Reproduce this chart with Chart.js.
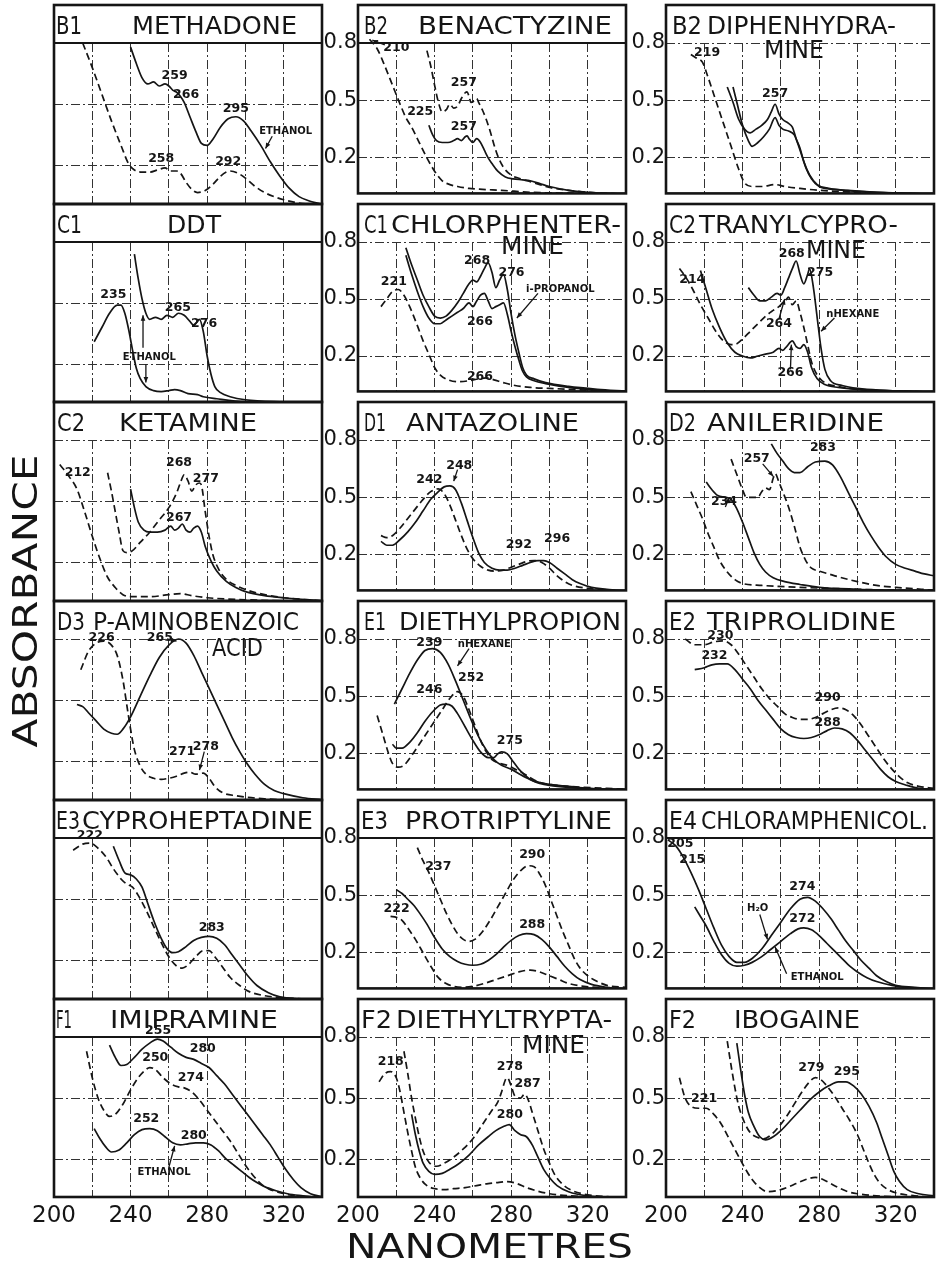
<!DOCTYPE html>
<html lang="en">
<head>
<meta charset="UTF-8" />
<title>UV absorbance spectra</title>
<script src="https://cdn.jsdelivr.net/npm/chart.js"></script>
<style>
  html, body { margin: 0; padding: 0; background: #fff; }
  #page { position: relative; width: 936px; height: 1264px; overflow: hidden; background: #fff; }
  #page canvas { position: absolute; }
  #page svg { position: absolute; left: 0; top: 0; pointer-events: none; }
</style>
</head>
<body>
<div id="page"></div>
<script>
// ---- spectra, [nanometres, absorbance] ----
// row 1
const methadoneDash = [[215,0.80],[220,0.68],[225,0.55],[230,0.42],[235,0.30],[239,0.21],[242,0.18],[246,0.17],[250,0.17],[254,0.18],[258,0.19],[261,0.175],[264,0.175],[266,0.165],[269,0.12],[272,0.085],[275,0.07],[279,0.08],[283,0.11],[287,0.15],[290,0.17],[292,0.175],[296,0.165],[300,0.14],[305,0.10],[310,0.07],[315,0.05],[320,0.035],[327,0.02],[338,0.01]];
const methadoneEthanol = [[240,0.78],[243,0.70],[246,0.63],[249,0.60],[252,0.61],[255,0.59],[258,0.60],[260,0.59],[262,0.57],[264,0.56],[266,0.54],[268,0.51],[271,0.44],[274,0.37],[277,0.31],[280,0.30],[283,0.33],[287,0.39],[291,0.43],[295,0.44],[299,0.42],[303,0.37],[308,0.30],[313,0.22],[318,0.15],[323,0.09],[328,0.05],[333,0.03],[339,0.015]];
const benactyzineDash = [[206,0.82],[210,0.77],[214,0.68],[218,0.58],[222,0.48],[225,0.41],[228,0.36],[232,0.28],[236,0.20],[240,0.13],[244,0.08],[248,0.06],[252,0.05],[258,0.04],[265,0.035],[275,0.03],[290,0.02],[310,0.015],[340,0.01]];
const benactyzineUpper = [[236,0.76],[238,0.68],[240,0.58],[242,0.49],[244,0.44],[246,0.45],[248,0.48],[250,0.46],[252,0.47],[254,0.51],[256,0.54],[257,0.545],[258,0.52],[259,0.49],[261,0.50],[262,0.51],[263,0.49],[265,0.45],[267,0.40],[269,0.34],[271,0.27],[273,0.21],[276,0.15],[280,0.11],[285,0.09],[290,0.075],[295,0.06],[300,0.045],[310,0.03],[320,0.02],[340,0.01]];
const benactyzineLower = [[237,0.37],[239,0.32],[241,0.29],[244,0.28],[247,0.28],[250,0.29],[252,0.30],[254,0.29],[256,0.31],[257,0.315],[258,0.30],[260,0.28],[262,0.30],[264,0.28],[266,0.24],[268,0.20],[270,0.17],[273,0.13],[277,0.10],[281,0.09],[286,0.085],[290,0.08],[295,0.065],[300,0.05],[310,0.03],[320,0.02],[340,0.01]];
const diphenDash = [[213,0.74],[216,0.72],[219,0.70],[222,0.62],[226,0.50],[230,0.38],[234,0.26],[238,0.14],[241,0.07],[245,0.05],[250,0.05],[257,0.06],[262,0.05],[270,0.04],[280,0.03],[300,0.02],[340,0.01]];
const diphenUpper = [[232,0.57],[235,0.49],[238,0.40],[241,0.35],[244,0.33],[247,0.35],[250,0.37],[253,0.40],[255,0.44],[257,0.48],[259,0.43],[261,0.40],[264,0.38],[266,0.36],[268,0.30],[270,0.25],[272,0.18],[275,0.11],[279,0.06],[285,0.04],[295,0.03],[310,0.02],[340,0.01]];
const diphenLower = [[235,0.57],[237,0.49],[240,0.37],[243,0.29],[245,0.26],[248,0.28],[251,0.31],[254,0.35],[257,0.41],[259,0.37],[261,0.35],[264,0.34],[267,0.32],[269,0.27],[271,0.21],[273,0.15],[276,0.09],[280,0.05],[288,0.035],[300,0.025],[340,0.01]];
// row 2
const ddtEthanol = [[221,0.31],[225,0.38],[229,0.45],[233,0.49],[235,0.49],[237,0.45],[239,0.37],[241,0.27],[243,0.18],[245,0.13],[248,0.09],[252,0.07],[256,0.065],[260,0.07],[263,0.075],[266,0.07],[270,0.055],[275,0.05],[278,0.04],[285,0.03],[300,0.015],[340,0.01]];
const ddtUpper = [[242,0.74],[244,0.62],[246,0.52],[248,0.45],[250,0.42],[253,0.43],[256,0.42],[259,0.44],[262,0.43],[265,0.45],[268,0.44],[271,0.41],[273,0.39],[276,0.42],[278,0.36],[280,0.24],[282,0.15],[284,0.09],[287,0.06],[292,0.04],[300,0.025],[320,0.015],[340,0.01]];
const chlorphenDash = [[212,0.46],[215,0.50],[218,0.54],[221,0.55],[224,0.52],[227,0.46],[231,0.36],[234,0.28],[237,0.21],[240,0.14],[243,0.10],[247,0.075],[252,0.065],[258,0.07],[263,0.08],[267,0.085],[271,0.075],[276,0.06],[282,0.045],[290,0.035],[300,0.03],[320,0.02],[340,0.01]];
const chlorphenUpper = [[225,0.77],[228,0.68],[231,0.60],[234,0.52],[237,0.46],[240,0.41],[243,0.40],[246,0.41],[249,0.44],[252,0.48],[255,0.53],[258,0.58],[260,0.60],[262,0.59],[264,0.62],[266,0.66],[268,0.69],[270,0.64],[272,0.56],[274,0.60],[276,0.63],[278,0.55],[280,0.42],[282,0.31],[284,0.22],[286,0.14],[288,0.10],[292,0.08],[298,0.06],[310,0.04],[325,0.025],[340,0.015]];
const chlorphenLower = [[225,0.73],[228,0.63],[231,0.54],[234,0.46],[237,0.40],[240,0.37],[243,0.37],[246,0.39],[249,0.41],[252,0.43],[255,0.45],[258,0.48],[260,0.46],[262,0.49],[264,0.52],[266,0.53],[268,0.49],[270,0.45],[272,0.46],[274,0.47],[276,0.48],[278,0.42],[280,0.33],[282,0.25],[284,0.18],[286,0.12],[288,0.09],[292,0.07],[298,0.055],[310,0.035],[325,0.02],[340,0.01]];
const tranylDash = [[207,0.66],[210,0.62],[214,0.55],[218,0.47],[222,0.40],[226,0.33],[230,0.28],[234,0.26],[237,0.265],[240,0.29],[244,0.33],[248,0.37],[252,0.41],[256,0.44],[259,0.46],[261,0.48],[263,0.50],[264,0.51],[266,0.47],[268,0.49],[270,0.43],[272,0.35],[274,0.26],[276,0.17],[279,0.10],[283,0.06],[290,0.04],[300,0.025],[340,0.01]];
const tranylSolid = [[218,0.65],[221,0.55],[224,0.45],[228,0.35],[232,0.27],[236,0.22],[240,0.20],[244,0.19],[248,0.20],[252,0.21],[256,0.22],[259,0.24],[261,0.23],[263,0.25],[266,0.28],[268,0.25],[270,0.24],[272,0.26],[274,0.22],[276,0.14],[279,0.08],[283,0.05],[290,0.035],[300,0.025],[340,0.01]];
const tranylHexane = [[243,0.56],[246,0.52],[249,0.49],[252,0.49],[255,0.51],[258,0.53],[260,0.52],[262,0.56],[264,0.61],[266,0.66],[268,0.70],[270,0.63],[272,0.58],[274,0.63],[275,0.66],[277,0.56],[279,0.40],[281,0.24],[283,0.13],[286,0.07],[292,0.045],[300,0.03],[340,0.01]];
// row 3
const ketamineDash = [[203,0.68],[208,0.62],[212,0.56],[216,0.45],[220,0.33],[224,0.22],[228,0.13],[232,0.08],[236,0.045],[240,0.035],[250,0.035],[260,0.045],[266,0.05],[272,0.04],[280,0.03],[300,0.02],[340,0.01]];
const ketamineUpper = [[228,0.64],[230,0.55],[232,0.45],[234,0.35],[236,0.26],[238,0.25],[241,0.26],[245,0.30],[250,0.35],[255,0.41],[260,0.47],[264,0.54],[266,0.59],[268,0.63],[270,0.60],[272,0.55],[274,0.58],[276,0.59],[277,0.58],[279,0.45],[281,0.33],[283,0.24],[286,0.17],[290,0.12],[295,0.09],[300,0.07],[310,0.045],[320,0.03],[340,0.015]];
const ketamineLower = [[240,0.56],[242,0.47],[244,0.40],[247,0.36],[250,0.35],[254,0.35],[258,0.36],[261,0.38],[263,0.36],[265,0.37],[267,0.39],[269,0.36],[271,0.35],[273,0.37],[275,0.38],[277,0.35],[279,0.28],[282,0.21],[285,0.16],[290,0.11],[295,0.08],[300,0.06],[310,0.04],[320,0.03],[340,0.015]];
const antazolineDash = [[212,0.30],[215,0.29],[218,0.30],[222,0.34],[226,0.39],[230,0.44],[234,0.49],[238,0.53],[242,0.545],[245,0.52],[248,0.46],[251,0.38],[254,0.30],[257,0.23],[260,0.18],[264,0.14],[268,0.12],[272,0.115],[276,0.12],[280,0.135],[284,0.15],[288,0.165],[292,0.17],[296,0.16],[300,0.13],[304,0.09],[308,0.06],[312,0.04],[320,0.025],[340,0.01]];
const antazolineSolid = [[212,0.27],[215,0.25],[218,0.25],[222,0.28],[226,0.32],[230,0.37],[234,0.43],[238,0.49],[242,0.53],[245,0.555],[248,0.56],[251,0.54],[254,0.47],[257,0.38],[260,0.29],[263,0.21],[266,0.16],[270,0.13],[274,0.12],[278,0.12],[282,0.13],[286,0.145],[290,0.16],[294,0.17],[297,0.17],[300,0.16],[304,0.13],[308,0.10],[312,0.07],[316,0.05],[322,0.03],[330,0.02],[340,0.01]];
const anilerDash = [[213,0.53],[216,0.46],[219,0.39],[222,0.31],[225,0.24],[228,0.17],[232,0.11],[236,0.07],[240,0.05],[250,0.04],[270,0.03],[300,0.02],[340,0.01]];
const anilerSolid234 = [[221,0.58],[224,0.54],[227,0.51],[231,0.50],[234,0.49],[237,0.44],[240,0.37],[243,0.29],[246,0.21],[249,0.15],[252,0.11],[256,0.08],[262,0.06],[270,0.045],[280,0.03],[300,0.02],[340,0.01]];
const anilerDash257 = [[234,0.70],[237,0.62],[240,0.54],[242,0.50],[245,0.50],[248,0.50],[250,0.53],[252,0.55],[254,0.54],[256,0.60],[257,0.625],[259,0.58],[261,0.53],[264,0.45],[267,0.35],[270,0.24],[273,0.17],[276,0.13],[280,0.115],[285,0.10],[290,0.085],[300,0.06],[310,0.04],[320,0.03],[340,0.015]];
const anilerSolid283 = [[255,0.78],[258,0.73],[261,0.69],[264,0.65],[267,0.63],[270,0.63],[274,0.66],[278,0.685],[283,0.69],[287,0.67],[291,0.61],[295,0.53],[299,0.45],[303,0.37],[307,0.30],[311,0.24],[315,0.19],[320,0.15],[325,0.13],[330,0.115],[335,0.10],[340,0.09]];
// row 4
const pabaDash = [[214,0.65],[218,0.74],[222,0.78],[226,0.79],[230,0.77],[233,0.72],[236,0.60],[238,0.48],[240,0.36],[242,0.26],[245,0.18],[248,0.14],[252,0.12],[256,0.115],[260,0.12],[264,0.13],[268,0.145],[271,0.15],[274,0.14],[278,0.145],[281,0.12],[284,0.08],[288,0.05],[295,0.035],[310,0.02],[340,0.01]];
const pabaSolid = [[212,0.48],[215,0.47],[218,0.44],[222,0.40],[226,0.36],[230,0.34],[233,0.335],[236,0.36],[240,0.42],[245,0.52],[250,0.62],[255,0.71],[260,0.77],[265,0.80],[269,0.78],[273,0.72],[277,0.64],[281,0.56],[285,0.48],[289,0.40],[293,0.32],[297,0.25],[301,0.19],[305,0.14],[310,0.09],[315,0.06],[320,0.045],[330,0.025],[340,0.015]];
const diethylpHexane = [[219,0.46],[223,0.54],[227,0.62],[231,0.69],[235,0.74],[239,0.75],[243,0.73],[247,0.67],[251,0.58],[255,0.48],[259,0.38],[263,0.29],[267,0.22],[271,0.17],[275,0.14],[280,0.12],[285,0.09],[290,0.065],[295,0.05],[300,0.04],[310,0.03],[320,0.02],[340,0.01]];
const diethylpSolid = [[218,0.25],[220,0.23],[223,0.23],[227,0.26],[231,0.31],[235,0.37],[239,0.42],[243,0.455],[246,0.46],[249,0.45],[252,0.41],[256,0.34],[260,0.27],[264,0.21],[268,0.18],[271,0.18],[273,0.20],[275,0.21],[278,0.20],[281,0.16],[284,0.12],[287,0.09],[291,0.06],[295,0.045],[300,0.035],[310,0.025],[340,0.01]];
const diethylpDash = [[210,0.40],[213,0.30],[216,0.20],[218,0.15],[221,0.13],[224,0.14],[228,0.19],[232,0.25],[236,0.31],[240,0.37],[244,0.43],[248,0.49],[252,0.525],[255,0.50],[258,0.43],[261,0.35],[264,0.27],[267,0.21],[270,0.17],[274,0.15],[278,0.14],[282,0.12],[286,0.10],[290,0.075],[295,0.05],[300,0.04],[310,0.03],[340,0.015]];
const triproDash = [[210,0.80],[215,0.77],[220,0.77],[225,0.785],[230,0.79],[234,0.77],[238,0.72],[242,0.66],[246,0.60],[250,0.54],[254,0.49],[258,0.45],[262,0.41],[266,0.39],[270,0.38],[274,0.38],[278,0.39],[282,0.41],[286,0.43],[290,0.44],[294,0.43],[298,0.40],[302,0.35],[306,0.29],[310,0.23],[314,0.17],[318,0.12],[322,0.08],[326,0.05],[332,0.03],[340,0.02]];
const triproSolid = [[215,0.64],[220,0.65],[224,0.665],[228,0.67],[232,0.67],[236,0.64],[240,0.59],[244,0.54],[248,0.48],[252,0.43],[256,0.38],[260,0.33],[264,0.30],[268,0.285],[272,0.28],[276,0.285],[280,0.30],[284,0.32],[288,0.335],[292,0.33],[296,0.31],[300,0.27],[304,0.22],[308,0.17],[312,0.12],[316,0.08],[320,0.055],[326,0.035],[332,0.02],[340,0.015]];
// row 5
const cyproDash = [[210,0.74],[215,0.77],[219,0.775],[223,0.75],[227,0.71],[231,0.65],[235,0.60],[238,0.575],[241,0.56],[244,0.52],[248,0.45],[252,0.37],[256,0.29],[260,0.22],[264,0.175],[267,0.165],[270,0.18],[274,0.22],[278,0.25],[281,0.25],[284,0.22],[288,0.17],[292,0.12],[297,0.08],[302,0.05],[310,0.03],[320,0.02],[340,0.01]];
const cyproSolid = [[231,0.76],[234,0.69],[237,0.63],[240,0.62],[243,0.60],[246,0.56],[249,0.48],[252,0.40],[256,0.31],[259,0.26],[262,0.24],[265,0.245],[269,0.27],[273,0.30],[277,0.315],[281,0.32],[285,0.31],[289,0.28],[293,0.23],[297,0.18],[301,0.13],[306,0.08],[312,0.045],[318,0.025],[328,0.015],[340,0.01]];
const protripUpper = [[231,0.75],[234,0.68],[237,0.62],[240,0.55],[243,0.48],[246,0.41],[249,0.35],[252,0.30],[255,0.27],[258,0.26],[261,0.27],[265,0.31],[269,0.37],[273,0.44],[277,0.51],[281,0.58],[285,0.63],[289,0.655],[292,0.65],[295,0.61],[298,0.55],[301,0.47],[304,0.39],[307,0.31],[310,0.24],[313,0.17],[316,0.12],[320,0.08],[325,0.05],[330,0.03],[340,0.02]];
const protripSolid = [[220,0.53],[223,0.51],[226,0.48],[229,0.45],[232,0.41],[236,0.35],[240,0.28],[244,0.22],[248,0.18],[252,0.155],[256,0.14],[260,0.135],[264,0.14],[268,0.16],[272,0.19],[276,0.23],[280,0.265],[284,0.29],[288,0.30],[292,0.295],[296,0.27],[300,0.23],[304,0.18],[308,0.13],[312,0.09],[316,0.06],[322,0.035],[330,0.02],[340,0.01]];
const protripLower = [[217,0.39],[220,0.385],[223,0.37],[226,0.33],[230,0.27],[234,0.20],[238,0.13],[242,0.07],[246,0.04],[250,0.025],[255,0.02],[260,0.025],[266,0.04],[272,0.06],[278,0.08],[284,0.10],[290,0.11],[295,0.10],[300,0.08],[305,0.06],[310,0.04],[318,0.025],[340,0.01]];
const chloramphWater = [[201,0.79],[205,0.76],[209,0.70],[213,0.62],[217,0.53],[221,0.43],[225,0.33],[229,0.24],[233,0.18],[237,0.15],[241,0.15],[245,0.17],[250,0.22],[255,0.29],[260,0.36],[265,0.43],[270,0.48],[274,0.49],[278,0.47],[282,0.43],[286,0.38],[290,0.32],[294,0.26],[298,0.21],[302,0.16],[306,0.12],[310,0.08],[315,0.05],[320,0.03],[330,0.02],[340,0.01]];
const chloramphEthanol = [[215,0.44],[218,0.39],[221,0.34],[225,0.26],[229,0.19],[233,0.145],[237,0.13],[241,0.135],[245,0.15],[250,0.18],[255,0.22],[260,0.26],[265,0.30],[269,0.325],[272,0.33],[276,0.32],[280,0.29],[284,0.25],[288,0.21],[292,0.17],[296,0.13],[300,0.10],[305,0.07],[310,0.05],[318,0.03],[330,0.015],[340,0.01]];
// row 6
const imipUpper = [[229,0.76],[232,0.70],[235,0.66],[238,0.665],[242,0.70],[246,0.74],[250,0.77],[254,0.79],[257,0.78],[261,0.75],[265,0.72],[269,0.70],[273,0.69],[277,0.67],[281,0.65],[285,0.61],[289,0.57],[293,0.52],[297,0.47],[301,0.42],[305,0.37],[309,0.32],[313,0.27],[317,0.21],[321,0.15],[325,0.10],[329,0.06],[334,0.03],[340,0.015]];
const imipDash = [[217,0.73],[220,0.60],[223,0.50],[226,0.44],[229,0.41],[232,0.42],[236,0.47],[240,0.54],[244,0.60],[248,0.64],[250,0.65],[253,0.64],[257,0.60],[261,0.57],[265,0.555],[268,0.55],[272,0.53],[276,0.49],[280,0.44],[284,0.39],[288,0.34],[292,0.29],[296,0.23],[300,0.17],[304,0.12],[308,0.08],[312,0.055],[318,0.035],[326,0.02],[340,0.01]];
const imipEthanol = [[221,0.35],[224,0.30],[227,0.26],[230,0.235],[234,0.245],[238,0.28],[242,0.32],[246,0.345],[250,0.35],[254,0.34],[258,0.31],[262,0.28],[266,0.27],[270,0.275],[274,0.28],[278,0.28],[282,0.27],[286,0.24],[290,0.20],[294,0.17],[298,0.14],[302,0.11],[306,0.085],[310,0.065],[316,0.045],[322,0.03],[330,0.02],[340,0.01]];
const detDash218 = [[211,0.58],[214,0.62],[217,0.63],[220,0.60],[222,0.53],[224,0.43],[226,0.33],[228,0.24],[230,0.16],[233,0.10],[236,0.07],[240,0.055],[245,0.05],[250,0.055],[256,0.06],[262,0.07],[268,0.08],[273,0.085],[278,0.09],[283,0.08],[288,0.06],[293,0.045],[300,0.03],[310,0.02],[340,0.01]];
const detDashUpper = [[224,0.73],[226,0.62],[228,0.50],[230,0.40],[232,0.31],[234,0.24],[236,0.20],[238,0.175],[241,0.165],[245,0.18],[250,0.21],[255,0.25],[260,0.30],[265,0.37],[270,0.44],[273,0.48],[275,0.53],[277,0.59],[278,0.60],[280,0.56],[282,0.51],[285,0.50],[287,0.52],[289,0.49],[291,0.43],[294,0.34],[297,0.25],[300,0.18],[303,0.12],[307,0.075],[312,0.045],[320,0.025],[340,0.01]];
const detSolid = [[228,0.42],[230,0.32],[232,0.24],[234,0.18],[237,0.14],[240,0.125],[244,0.13],[248,0.15],[253,0.18],[258,0.22],[263,0.27],[268,0.31],[272,0.34],[276,0.36],[279,0.37],[282,0.34],[285,0.32],[288,0.31],[291,0.27],[294,0.21],[297,0.15],[300,0.11],[304,0.07],[310,0.04],[320,0.02],[340,0.01]];
const iboDashLow = [[207,0.60],[210,0.50],[213,0.46],[217,0.45],[221,0.45],[225,0.42],[229,0.37],[233,0.30],[237,0.23],[241,0.16],[245,0.10],[249,0.06],[253,0.04],[258,0.045],[263,0.06],[268,0.08],[273,0.10],[278,0.11],[282,0.10],[286,0.08],[290,0.06],[295,0.04],[300,0.03],[310,0.02],[340,0.01]];
const iboDashUpper = [[232,0.78],[234,0.66],[236,0.55],[238,0.46],[241,0.38],[244,0.33],[247,0.31],[251,0.30],[255,0.32],[259,0.36],[263,0.41],[267,0.47],[271,0.53],[275,0.58],[278,0.60],[281,0.59],[284,0.56],[288,0.51],[292,0.45],[296,0.39],[300,0.32],[303,0.25],[306,0.18],[309,0.12],[312,0.08],[316,0.05],[322,0.03],[330,0.02],[340,0.01]];
const iboSolid = [[237,0.77],[239,0.64],[241,0.52],[243,0.43],[246,0.36],[249,0.31],[252,0.295],[256,0.31],[260,0.34],[265,0.39],[270,0.44],[275,0.49],[280,0.53],[285,0.56],[290,0.58],[294,0.58],[298,0.56],[302,0.52],[306,0.46],[310,0.38],[313,0.30],[316,0.22],[319,0.14],[322,0.09],[326,0.05],[332,0.03],[340,0.02]];

// ---- peak / solvent labels: [text, nm, absorbance] ----
const methadoneLabels = [['259',263,0.64],['266',269,0.547],['295',295,0.48],['258',256,0.237],['292',291,0.22],['ETHANOL',321,0.37]];
const benactyzineLabels = [['210',220,0.775],['257',255.3,0.59],['225',232.5,0.44],['257',255.3,0.36]];
const diphenLabels = [['219',221.5,0.75],['257',257,0.535]];
const ddtLabels = [['235',231,0.54],['265',264.7,0.475],['276',278.4,0.397],['ETHANOL',249.8,0.233]];
const chlorphenLabels = [['221',218.7,0.592],['268',262.2,0.70],['276',280.2,0.637],['i-PROPANOL',305.7,0.55],['266',263.7,0.38],['266',263.7,0.093]];
const tranylLabels = [['214',213.7,0.60],['268',265.7,0.74],['275',280.5,0.64],['264',259,0.37],['nHEXANE',297.6,0.42],['266',265,0.11]];
const ketamineLabels = [['212',212.4,0.64],['268',265.3,0.69],['277',279.3,0.61],['267',265.3,0.42]];
const antazolineLabels = [['242',237.3,0.592],['248',252.9,0.667],['292',284,0.25],['296',304,0.283]];
const anilerLabels = [['234',230.3,0.475],['257',247.4,0.70],['283',282,0.758]];
const pabaLabels = [['226',224.9,0.805],['265',255.3,0.805],['271',266.9,0.25],['278',279.3,0.276]];
const diethylpLabels = [['239',237.3,0.78],['nHEXANE',266,0.77],['246',237.3,0.536],['252',259.1,0.60],['275',279.3,0.27]];
const triproLabels = [['230',228.4,0.815],['232',225.3,0.71],['290',284.4,0.495],['288',284.4,0.36]];
const cyproLabels = [['222',218.7,0.81],['283',282.4,0.363]];
const protripLabels = [['237',242,0.65],['290',291,0.71],['222',220.2,0.43],['288',291,0.345]];
const chloramphLabels = [['205',207.5,0.77],['215',213.7,0.687],['274',271.2,0.546],['H₂O',247.9,0.43],['272',271.2,0.38],['ETHANOL',279,0.07]];
const imipLabels = [['255',254.4,0.83],['280',277.7,0.74],['250',252.9,0.70],['274',271.5,0.60],['252',248.2,0.40],['280',273,0.315],['ETHANOL',257.5,0.133]];
const detLabels = [['218',217.1,0.68],['278',279.3,0.656],['287',288.6,0.57],['280',279.3,0.42]];
const iboLabels = [['221',219.9,0.496],['279',275.9,0.65],['295',294.5,0.63]];

// ---- arrows from a label to its curve: [nm0, A0, nm1, A1] ----
const methadoneArrows = [[314,0.345,310.5,0.285]];
const benactyzineArrows = [[214,0.79,207.5,0.815]];
const ddtArrows = [[246.5,0.28,246.5,0.44],[248,0.20,248,0.11]];
const chlorphenArrows = [[294,0.53,283,0.40]];
const tranylArrows = [[259,0.395,262,0.50],[288,0.40,281,0.33],[265,0.13,265.5,0.26]];
const antazolineArrows = [[252,0.645,250,0.585]];
const anilerArrows = [[231,0.45,233,0.50],[250.5,0.675,256,0.61]];
const pabaArrows = [[259,0.80,264,0.79],[278.5,0.25,276,0.16]];
const diethylpArrows = [[258,0.75,252,0.66]];
const chloramphArrows = [[249,0.40,253,0.27],[263,0.09,257,0.23]];
const imipArrows = [[260,0.16,263,0.265]];

// ---- titles ----
const panelCodes = ['B1','B2','B2','C1','C1','C2','C2','D1','D2','D3','E1','E2','E3','E3','E4','F1','F2','F2'];
const panelNames = ['METHADONE','BENACTYZINE','DIPHENHYDRA-','DDT','CHLORPHENTER-','TRANYLCYPRO-','KETAMINE','ANTAZOLINE','ANILERIDINE','P-AMINOBENZOIC','DIETHYLPROPION','TRIPROLIDINE','CYPROHEPTADINE','PROTRIPTYLINE','CHLORAMPHENICOL.','IMIPRAMINE','DIETHYLTRYPTA-','IBOGAINE'];
const panelNames2 = ['','','MINE','','MINE','MINE','','','','ACID','','','','','','','MINE',''];

const xTicks = [200,220,240,260,280,300,320,340];
const xLabelTicks = [200,240,280,320];
const yTicks = [0.2,0.5,0.8];

// series per panel: [points, dashed]
const panelSeries = [
  [[methadoneDash,true],[methadoneEthanol,false]],
  [[benactyzineDash,true],[benactyzineUpper,true],[benactyzineLower,false]],
  [[diphenDash,true],[diphenUpper,false],[diphenLower,false]],
  [[ddtEthanol,false],[ddtUpper,false]],
  [[chlorphenDash,true],[chlorphenUpper,false],[chlorphenLower,false]],
  [[tranylDash,true],[tranylSolid,false],[tranylHexane,false]],
  [[ketamineDash,true],[ketamineUpper,true],[ketamineLower,false]],
  [[antazolineDash,true],[antazolineSolid,false]],
  [[anilerDash,true],[anilerSolid234,false],[anilerDash257,true],[anilerSolid283,false]],
  [[pabaDash,true],[pabaSolid,false]],
  [[diethylpHexane,false],[diethylpSolid,false],[diethylpDash,true]],
  [[triproDash,true],[triproSolid,false]],
  [[cyproDash,true],[cyproSolid,false]],
  [[protripUpper,true],[protripSolid,false],[protripLower,true]],
  [[chloramphWater,false],[chloramphEthanol,false]],
  [[imipUpper,false],[imipDash,true],[imipEthanol,false]],
  [[detDash218,true],[detDashUpper,true],[detSolid,false]],
  [[iboDashLow,true],[iboDashUpper,true],[iboSolid,false]]
];
const panelLabels = [methadoneLabels,benactyzineLabels,diphenLabels,ddtLabels,chlorphenLabels,tranylLabels,ketamineLabels,antazolineLabels,anilerLabels,pabaLabels,diethylpLabels,triproLabels,cyproLabels,protripLabels,chloramphLabels,imipLabels,detLabels,iboLabels];
const panelArrows = [methadoneArrows,benactyzineArrows,[],ddtArrows,chlorphenArrows,tranylArrows,[],antazolineArrows,anilerArrows,pabaArrows,diethylpArrows,[],[],[],chloramphArrows,imipArrows,[],[]];

// ---- layout (pixels) ----
const COL_LEFT = [54, 358, 666];
const PANEL_W = 268;
const ROW_TOP0 = 5, ROW_H = 198.7;
const TITLE_H = 38;
const Y_MIN = 0.014, Y_MAX = 0.8;
const MARGIN_L = 40, PAD = 3, XLAB_H = 30;
// [codeX0, codeX1, nameX0, nameX1, line2X0, line2X1, line2Base] relative to panel
const titleBox = [
  [2,28,78,243],[6,30,60,254],[6,36,41,230,98,158,53],
  [3,28,113,167],[6,30,33,263,143,206,50],[3,30,33,232,140,200,54],
  [3,31,65,203],[6,28,48,221],[3,30,41,218],
  [3,31,39,245,158,209,55],[6,28,41,263],[3,30,41,230],
  [2,26,28,259],[3,30,47,254],[3,31,35,262],
  [2,18,56,224],[3,34,38,254,164,227,54],[3,30,68,194]
];
const solidTop = [true,true,false,true,false,false,false,false,false,false,false,false,true,true,true,true,false,false];

const FONT = "'DejaVu Sans', 'Liberation Sans', sans-serif";
const INK = '#151515';

const page = document.getElementById('page');

const framePlugin = {
  id: 'frame',
  beforeDatasetsDraw(chart, args, opts) {
    const { ctx, chartArea: ca } = chart;
    if (opts.solidTop) {
      ctx.save();
      ctx.strokeStyle = INK; ctx.lineWidth = 1.8;
      ctx.beginPath(); ctx.moveTo(ca.left, ca.top); ctx.lineTo(ca.right, ca.top); ctx.stroke();
      ctx.restore();
    }
  },
  afterDraw(chart) {
    const { ctx, chartArea: ca } = chart;
    ctx.save();
    ctx.strokeStyle = INK; ctx.lineWidth = 2.6;
    ctx.strokeRect(ca.left, ca.top - TITLE_H, ca.right - ca.left, ca.bottom - ca.top + TITLE_H);
    ctx.restore();
  }
};

const notePlugin = {
  id: 'notes',
  afterDatasetsDraw(chart, args, opts) {
    const { ctx, scales: { x, y } } = chart;
    ctx.save();
    ctx.fillStyle = INK; ctx.strokeStyle = INK;
    ctx.textAlign = 'center'; ctx.textBaseline = 'middle';
    opts.labels.forEach(([t, nm, a]) => {
      const small = /[A-Za-z]/.test(t);
      ctx.font = (small ? 'bold 10px ' : 'bold 12.5px ') + FONT;
      ctx.fillText(t, x.getPixelForValue(nm), y.getPixelForValue(a));
    });
    ctx.lineWidth = 1.3;
    opts.arrows.forEach(([n0, a0, n1, a1]) => {
      const x0 = x.getPixelForValue(n0), y0 = y.getPixelForValue(a0);
      const x1 = x.getPixelForValue(n1), y1 = y.getPixelForValue(a1);
      const ang = Math.atan2(y1 - y0, x1 - x0);
      ctx.beginPath(); ctx.moveTo(x0, y0); ctx.lineTo(x1, y1); ctx.stroke();
      ctx.beginPath();
      ctx.moveTo(x1, y1);
      ctx.lineTo(x1 - 6 * Math.cos(ang - 0.4), y1 - 6 * Math.sin(ang - 0.4));
      ctx.lineTo(x1 - 6 * Math.cos(ang + 0.4), y1 - 6 * Math.sin(ang + 0.4));
      ctx.closePath(); ctx.fill();
    });
    ctx.restore();
  }
};

panelSeries.forEach((series, i) => {
  const row = Math.floor(i / 3), col = i % 3;
  const top = Math.round(ROW_TOP0 + ROW_H * row);
  const bottom = Math.round(ROW_TOP0 + ROW_H * (row + 1));
  const lastRow = row === 5;
  const canvas = document.createElement('canvas');
  const w = MARGIN_L + PANEL_W + PAD;
  const h = PAD + (bottom - top) + (lastRow ? XLAB_H : PAD);
  canvas.width = w; canvas.height = h;
  canvas.style.width = w + 'px'; canvas.style.height = h + 'px';
  canvas.style.left = (COL_LEFT[col] - MARGIN_L) + 'px';
  canvas.style.top = (top - PAD) + 'px';
  page.appendChild(canvas);

  new Chart(canvas, {
    type: 'line',
    data: {
      datasets: series.map(([pts, dashed]) => ({
        data: pts.map(([nm, a]) => ({ x: nm, y: a })),
        borderColor: INK,
        borderWidth: 1.7,
        borderDash: dashed ? [7, 4] : [],
        pointRadius: 0,
        cubicInterpolationMode: 'monotone',
        fill: false,
        clip: { left: 0, top: 36, right: 0, bottom: 0 }
      }))
    },
    options: {
      responsive: false,
      animation: false,
      devicePixelRatio: 1,
      layout: { padding: { top: PAD + TITLE_H, right: PAD, bottom: lastRow ? 0 : PAD, left: 0 } },
      plugins: {
        legend: { display: false },
        tooltip: { enabled: false },
        frame: { solidTop: solidTop[i] },
        notes: { labels: panelLabels[i], arrows: panelArrows[i] }
      },
      scales: {
        x: {
          type: 'linear', min: 200, max: 340,
          afterBuildTicks: ax => { ax.ticks = xTicks.map(v => ({ value: v })); },
          afterFit: ax => { ax.height = lastRow ? XLAB_H : 0; ax.paddingLeft = 0; ax.paddingRight = 0; },
          grid: { color: '#333', lineWidth: 1, drawTicks: false },
          border: { display: false, dash: [9, 3, 2, 3] },
          ticks: {
            display: lastRow, autoSkip: false, maxRotation: 0, padding: 5,
            color: INK, font: { family: FONT, size: 23 },
            callback: v => xLabelTicks.includes(v) ? String(v) : ''
          }
        },
        y: {
          type: 'linear', min: Y_MIN, max: Y_MAX,
          afterBuildTicks: ax => { ax.ticks = yTicks.map(v => ({ value: v })); },
          afterFit: ax => { ax.width = MARGIN_L; },
          grid: { color: '#333', lineWidth: 1, drawTicks: false },
          border: { display: false, dash: [9, 3, 2, 3] },
          ticks: {
            display: col > 0, padding: 1,
            color: INK, font: { family: FONT, size: 21 },
            callback: v => v.toFixed(1)
          }
        }
      }
    },
    plugins: [framePlugin, notePlugin]
  });
});

// ---- titles and axis names as SVG text ----
const NS = 'http://www.w3.org/2000/svg';
const svg = document.createElementNS(NS, 'svg');
svg.setAttribute('width', 936); svg.setAttribute('height', 1264);
page.appendChild(svg);

function addText(str, x, y, size, len, extra) {
  const t = document.createElementNS(NS, 'text');
  t.textContent = str;
  t.setAttribute('x', x); t.setAttribute('y', y);
  t.setAttribute('font-family', FONT);
  t.setAttribute('font-size', size);
  t.setAttribute('fill', INK);
  if (len) { t.setAttribute('textLength', len); t.setAttribute('lengthAdjust', 'spacingAndGlyphs'); }
  if (extra) Object.entries(extra).forEach(([k, v]) => t.setAttribute(k, v));
  svg.appendChild(t);
}

panelCodes.forEach((code, i) => {
  const row = Math.floor(i / 3), col = i % 3;
  const top = Math.round(ROW_TOP0 + ROW_H * row);
  const left = COL_LEFT[col];
  const b = titleBox[i];
  addText(code, left + b[0], top + 29, 24, b[1] - b[0]);
  addText(panelNames[i], left + b[2], top + 29, 24, b[3] - b[2]);
  if (panelNames2[i]) addText(panelNames2[i], left + b[4], top + b[6], 24, b[5] - b[4]);
});

addText('ABSORBANCE', 0, 0, 33, 293, { transform: 'translate(37,601) rotate(-90)', 'text-anchor': 'middle' });
addText('NANOMETRES', 346, 1258, 34, 287);
</script>
</body>
</html>
